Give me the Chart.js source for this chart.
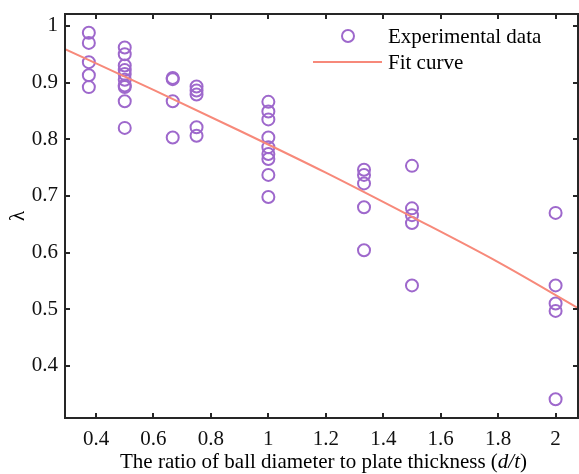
<!DOCTYPE html>
<html>
<head>
<meta charset="utf-8">
<script src="https://cdn.jsdelivr.net/npm/chart.js@4.4.1/dist/chart.umd.min.js"></script>
<style>
  html, body { margin: 0; padding: 0; background: #fff; overflow: hidden; }
  #wrap { width: 579px; height: 474px; position: relative; }
</style>
</head>
<body>
<div id="wrap"><canvas id="c"></canvas></div>
<script>
// ---- data ----
const expX = [
  0.375, 0.375, 0.375, 0.375, 0.375,
  0.5, 0.5, 0.5, 0.5, 0.5, 0.5, 0.5, 0.5, 0.5, 0.5,
  0.667, 0.667, 0.667, 0.667,
  0.75, 0.75, 0.75, 0.75, 0.75,
  1, 1, 1, 1, 1, 1, 1, 1, 1,
  1.333, 1.333, 1.333, 1.333, 1.333,
  1.5, 1.5, 1.5, 1.5, 1.5,
  2, 2, 2, 2, 2
];
const expY = [
  0.988, 0.970, 0.936, 0.913, 0.892,
  0.962, 0.950, 0.930, 0.922, 0.915, 0.905, 0.895, 0.892, 0.867, 0.820,
  0.908, 0.906, 0.867, 0.803,
  0.893, 0.886, 0.879, 0.821, 0.806,
  0.866, 0.849, 0.835, 0.803, 0.786, 0.774, 0.765, 0.737, 0.698,
  0.746, 0.737, 0.722, 0.680, 0.604,
  0.753, 0.678, 0.666, 0.652, 0.542,
  0.670, 0.542, 0.510, 0.497, 0.341
];
const fitX = [0.292, 0.6, 0.9, 1.2, 1.5, 1.8, 2.078];
const fitY = [0.959, 0.887, 0.815, 0.741, 0.663, 0.583, 0.502];
const xTicks = [0.4, 0.6, 0.8, 1, 1.2, 1.4, 1.6, 1.8, 2];
const yTicks = [0.4, 0.5, 0.6, 0.7, 0.8, 0.9, 1];
const xRange = [0.292, 2.078];
const yRange = [0.308, 1.021];
const seriesNames = ['Experimental data', 'Fit curve'];
const xTitleParts = [['The ratio of ball diameter to plate thickness (', false], ['d/t', true], [')', false]];
const yTitle = 'λ';

const FONT = '"Liberation Serif", "Times New Roman", serif';
const FS = 21;
const AXIS = '#262626';
const PURPLE = '#9e68cc';
const SALMON = '#f7897a';

const fmt = v => String(Math.round(v * 10) / 10);

const framePlugin = {
  id: 'frame',
  afterDatasetsDraw(chart) {
    const ctx = chart.ctx, a = chart.chartArea;
    const xs = chart.scales.x, ys = chart.scales.y;
    ctx.save();
    ctx.strokeStyle = AXIS;
    ctx.lineWidth = 2;
    ctx.strokeRect(a.left, a.top, a.right - a.left, a.bottom - a.top);
    const tl = 5;
    ctx.beginPath();
    xTicks.forEach(v => {
      const p = Math.round(xs.getPixelForValue(v));
      ctx.moveTo(p, a.bottom); ctx.lineTo(p, a.bottom - tl);
      ctx.moveTo(p, a.top); ctx.lineTo(p, a.top + tl);
    });
    yTicks.forEach(v => {
      const p = Math.round(ys.getPixelForValue(v));
      ctx.moveTo(a.left, p); ctx.lineTo(a.left + tl, p);
      ctx.moveTo(a.right, p); ctx.lineTo(a.right - tl, p);
    });
    ctx.stroke();

    // legend
    ctx.font = FS + 'px ' + FONT;
    ctx.fillStyle = '#000';
    ctx.textBaseline = 'middle';
    ctx.textAlign = 'left';
    const lx = a.left + 323;
    const ly1 = a.top + 22, ly2 = a.top + 48;
    ctx.strokeStyle = PURPLE; ctx.lineWidth = 2;
    ctx.beginPath(); ctx.arc(lx - 40, ly1, 6, 0, Math.PI * 2); ctx.stroke();
    ctx.fillText(seriesNames[0], lx, ly1 + 1);
    ctx.strokeStyle = SALMON; ctx.lineWidth = 2;
    ctx.beginPath(); ctx.moveTo(lx - 75, ly2); ctx.lineTo(lx - 6, ly2); ctx.stroke();
    ctx.fillText(seriesNames[1], lx, ly2 + 1);

    // x title with italic part
    const parts = xTitleParts.map(([t, it]) => {
      ctx.font = (it ? 'italic ' : '') + FS + 'px ' + FONT;
      return { t, it, w: ctx.measureText(t).width };
    });
    const total = parts.reduce((s, p) => s + p.w, 0);
    let x = (a.left + a.right) / 2 + 2 - total / 2;
    const ty = a.bottom + 44;
    parts.forEach(p => {
      ctx.font = (p.it ? 'italic ' : '') + FS + 'px ' + FONT;
      ctx.fillText(p.t, x, ty);
      x += p.w;
    });

    // y title
    ctx.save();
    ctx.translate(18, (a.top + a.bottom) / 2);
    ctx.rotate(-Math.PI / 2);
    ctx.textAlign = 'center';
    ctx.font = FS + 'px ' + FONT;
    ctx.fillText(yTitle, 0, 0);
    ctx.restore();
    ctx.restore();
  }
};

new Chart(document.getElementById('c'), {
  type: 'scatter',
  data: {
    datasets: [
      {
        label: seriesNames[1],
        data: fitX.map((x, i) => ({ x, y: fitY[i] })),
        showLine: true,
        borderColor: SALMON,
        borderWidth: 2,
        pointRadius: 0,
        cubicInterpolationMode: 'monotone',
        order: 0
      },
      {
        label: seriesNames[0],
        data: expX.map((x, i) => ({ x, y: expY[i] })),
        pointStyle: 'circle',
        pointRadius: 6,
        pointBorderWidth: 2,
        pointBorderColor: PURPLE,
        pointBackgroundColor: 'rgba(0,0,0,0)',
        showLine: false,
        order: 1
      }
    ]
  },
  options: {
    responsive: true,
    maintainAspectRatio: false,
    animation: false,
    events: [],
    layout: { autoPadding: false, padding: { top: 14, right: 1, left: 0, bottom: 0 } },
    plugins: { legend: { display: false }, tooltip: { enabled: false } },
    scales: {
      x: {
        type: 'linear',
        min: xRange[0], max: xRange[1],
        grid: { display: false, drawTicks: false, tickLength: 0 },
        border: { display: false },
        afterBuildTicks: s => { s.ticks = xTicks.map(v => ({ value: v })); },
        afterFit: s => { s.height = 56; s.paddingLeft = 0; s.paddingRight = 0; },
        ticks: {
          callback: v => fmt(v),
          color: '#111',
          padding: 9,
          maxRotation: 0,
          autoSkip: false,
          font: { family: FONT, size: FS }
        }
      },
      y: {
        type: 'linear',
        min: yRange[0], max: yRange[1],
        grid: { display: false, drawTicks: false, tickLength: 0 },
        border: { display: false },
        afterBuildTicks: s => { s.ticks = yTicks.map(v => ({ value: v })); },
        afterFit: s => { s.width = 65; s.paddingTop = 0; s.paddingBottom = 0; },
        ticks: {
          callback: v => fmt(v),
          color: '#111',
          padding: 7,
          autoSkip: false,
          font: { family: FONT, size: FS }
        }
      }
    }
  },
  plugins: [framePlugin]
});
</script>
</body>
</html>
